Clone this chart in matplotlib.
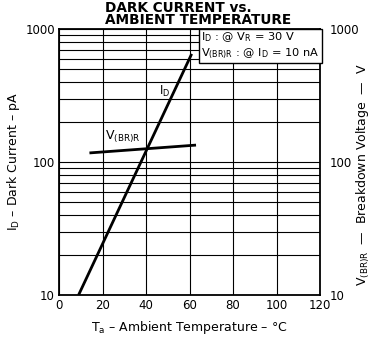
import matplotlib
matplotlib.use("Agg")
import matplotlib.pyplot as plt
from matplotlib.ticker import FixedLocator, NullFormatter

# Dark current I_D (pA) vs ambient temperature
temp_id = [9, 61]
dark_current = [10, 650]

# Breakdown voltage V(BR)R (V) vs ambient temperature
temp_vbr = [14, 63]
breakdown_v = [117, 134]

x_ticks = [0, 20, 40, 60, 80, 100, 120]
y_ticks = [10, 100, 1000]
y_ticklabels = ["10", "100", "1000"]

plt.rcParams["font.family"] = ["DejaVu Sans"]

fig = plt.figure(figsize=(3.71, 3.38), dpi=100)
ax = fig.add_axes([59 / 371, 1 - 295 / 338, 261 / 371, 266 / 338])

ax.set_xlim(0, 120)
ax.set_yscale("log")
ax.set_ylim(10, 1000)

ax.xaxis.set_major_locator(FixedLocator(x_ticks))
ax.yaxis.set_major_locator(FixedLocator(y_ticks))
ax.set_yticklabels(y_ticklabels)
ax.yaxis.set_minor_locator(FixedLocator(
    [m * d for d in (10, 100) for m in range(2, 10)]))
ax.yaxis.set_minor_formatter(NullFormatter())
ax.set_xticklabels([str(t) for t in x_ticks])

ax.grid(True, which="both", color="black", linewidth=0.8)
ax.tick_params(which="both", length=0, labelsize=8.5, pad=3)
for s in ax.spines.values():
    s.set_linewidth(1.3)

ax.plot(temp_id, dark_current, color="black", linewidth=2.0, solid_capstyle="butt", zorder=3)
ax.plot(temp_vbr, breakdown_v, color="black", linewidth=2.0, solid_capstyle="butt", zorder=3)

ax.text(46, 300, r"I$_\mathregular{D}$", fontsize=8.5, ha="left", va="bottom")
ax.text(21, 134, r"V$_\mathregular{(BR)R}$", fontsize=9, ha="left", va="bottom")

# conditions box
box_text = (r"I$_\mathregular{D}$ : @ V$_\mathregular{R}$ = 30 V" + "\n"
            r"V$_\mathregular{(BR)R}$ : @ I$_\mathregular{D}$ = 10 nA")
ax.text(0.545, 0.995, box_text, transform=ax.transAxes, fontsize=8.2,
        ha="left", va="top", linespacing=1.25, zorder=5,
        bbox=dict(boxstyle="square,pad=0.2", facecolor="white",
                  edgecolor="black", linewidth=1.0))

ax.set_xlabel(r"T$_\mathregular{a}$ – Ambient Temperature – °C",
              fontsize=9, labelpad=5)
ax.set_ylabel(r"I$_\mathregular{D}$ – Dark Current – pA", fontsize=9, labelpad=2)

ax2 = ax.twinx()
ax2.set_yscale("log")
ax2.set_ylim(10, 1000)
ax2.yaxis.set_major_locator(FixedLocator(y_ticks))
ax2.set_yticklabels(y_ticklabels)
ax2.yaxis.set_minor_locator(FixedLocator([]))
ax2.tick_params(which="both", length=0, labelsize=8.5, pad=7)
for s in ax2.spines.values():
    s.set_visible(False)
ax2.set_ylabel(r"V$_\mathregular{(BR)R}$  —  Breakdown Voltage  —  V",
               fontsize=9, rotation=90)
ax2.yaxis.set_label_coords(355 / 371, 1 - 175 / 338, transform=fig.transFigure)

fig.text(105 / 371, 1 - 8 / 338, "DARK CURRENT vs.",
         ha="left", va="center", fontsize=9.8, fontweight="bold")
fig.text(105 / 371, 1 - 20.5 / 338, "AMBIENT TEMPERATURE",
         ha="left", va="center", fontsize=9.8, fontweight="bold")

fig.savefig("out.png", dpi=100, facecolor="white")
